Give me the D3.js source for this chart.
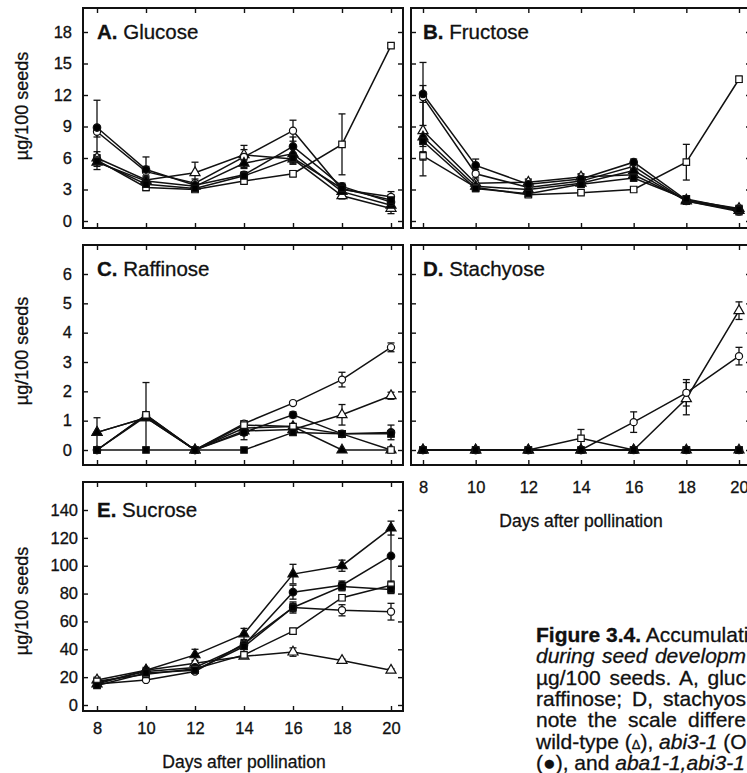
<!DOCTYPE html>
<html>
<head>
<meta charset="utf-8">
<script src="https://cdn.jsdelivr.net/npm/d3@7"></script>
<style>
  body { margin: 0; background: #fff; }
  svg { display: block; font-family: "Liberation Sans", Arial, Helvetica, sans-serif; }
  svg text { stroke: #111; stroke-width: 0.3px; }
</style>
</head>
<body>
<svg id="figure" width="747" height="773"></svg>
<script>
const days = [8, 10, 12, 14, 16, 18, 20];

// every panel lists its rows in this marker order
const markers = ["openTri", "openCircle", "filledTri", "filledCircle", "openSquare", "filledSquare"];

const glucose = [
  [6.0, 3.9, 4.6, 6.3, 5.9, 2.4, 1.2],
  [8.5, 4.7, 3.6, 6.1, 8.6, 3.0, 2.3],
  [5.6, 3.8, 3.3, 5.5, 6.4, 2.8, 1.5],
  [8.9, 4.9, 3.4, 4.4, 7.1, 3.3, 1.8],
  [5.8, 3.2, 3.0, 3.8, 4.5, 7.3, 16.7],
  [5.7, 3.5, 3.1, 4.3, 6.0, 3.1, 2.0]
];
const glucoseErr = [
  [0.6, 0.4, 1.0, 0.5, 0.5, 0.3, 0.5],
  [0.5, 0.5, 0.4, 1.1, 1.0, 0.3, 0.5],
  [0.7, 0.3, 0.3, 0.4, 0.8, 0.3, 0.4],
  [2.6, 1.2, 0.3, 0.3, 0.9, 0.3, 0.4],
  [0.4, 0.3, 0.2, 0.2, 0.3, 2.9, 0.2],
  [0.5, 0.3, 0.3, 0.3, 0.5, 0.3, 0.5]
];

const fructose = [
  [8.6, 3.6, 3.7, 4.2, 4.4, 2.0, 1.2],
  [11.8, 4.5, 3.2, 3.8, 5.2, 1.9, 0.9],
  [8.0, 3.3, 3.0, 3.6, 4.8, 1.9, 1.0],
  [12.1, 5.3, 3.5, 4.0, 5.6, 2.0, 1.0],
  [6.2, 3.2, 2.5, 2.7, 3.0, 5.6, 13.5],
  [7.6, 3.1, 2.6, 3.5, 4.1, 2.1, 1.1]
];
const fructoseErr = [
  [4.3, 0.3, 0.3, 0.3, 0.3, 0.3, 0.3],
  [0.5, 0.4, 0.3, 0.3, 0.3, 0.3, 0.3],
  [0.6, 0.3, 0.3, 0.3, 0.3, 0.3, 0.3],
  [3.0, 0.6, 0.4, 0.4, 0.3, 0.4, 0.4],
  [0.4, 0.2, 0.2, 0.2, 0.2, 1.7, 0.3],
  [0.5, 0.3, 0.3, 0.3, 0.3, 0.3, 0.3]
];

const raffinose = [
  [0.6, 1.1, 0, 0.65, 0.7, 1.2, 1.85],
  [0, 1.2, 0, 0.9, 1.6, 2.4, 3.5],
  [0.6, 1.1, 0, 0.75, 0.8, 0, 0],
  [0, 1.15, 0, 0.6, 1.2, 0.55, 0.6],
  [0, 1.2, 0, 0.85, 0.8, 0.55, 0],
  [0, 0, 0, 0, 0.6, 0.55, 0.55]
];
const raffinoseErr = [
  [0.5, 0, 0, 0.3, 0, 0.35, 0.12],
  [0, 1.1, 0, 0.1, 0.05, 0.25, 0.15],
  [0, 0, 0, 0.25, 0, 0, 0],
  [0, 0, 0, 0.1, 0.1, 0.1, 0.25],
  [0, 0, 0, 0.1, 0.1, 0.1, 0],
  [0, 0, 0, 0, 0.1, 0.1, 0.1]
];

const stachyose = [
  [0, 0, 0, 0, 0, 1.75, 4.75],
  [0, 0, 0, 0, 0.95, 1.95, 3.2],
  [0, 0, 0, 0, 0, 0, 0],
  [0, 0, 0, 0, 0, 0, 0],
  [0, 0, 0, 0.4, 0, 0, 0],
  [0, 0, 0, 0, 0, 0, 0]
];
const stachyoseErr = [
  [0, 0, 0, 0, 0, 0.55, 0.3],
  [0, 0, 0, 0, 0.35, 0.45, 0.3],
  [0, 0, 0, 0, 0, 0, 0],
  [0, 0, 0, 0, 0, 0, 0],
  [0, 0, 0, 0.3, 0, 0, 0],
  [0, 0, 0, 0, 0, 0, 0]
];

const sucrose = [
  [18, 25, 30, 35, 38, 32, 25],
  [15, 18, 24, 44, 70, 68, 67],
  [15, 25, 36, 51, 94, 100, 127],
  [16, 24, 27, 43, 81, 86, 107],
  [17, 22, 26, 36, 53, 77, 86],
  [14, 23, 25, 42, 70, 85, 83]
];
const sucroseErr = [
  [2, 1, 1, 1, 3, 1, 1],
  [1, 1, 1, 2, 4, 4, 6],
  [2, 2, 4, 4, 7, 4, 5],
  [2, 2, 2, 3, 5, 3, 20],
  [2, 1, 1, 1, 2, 2, 3],
  [2, 2, 2, 2, 3, 3, 3]
];

const glucoseTicks = [0, 3, 6, 9, 12, 15, 18];
const raffinoseTicks = [0, 1, 2, 3, 4, 5, 6];
const sucroseTicks = [0, 20, 40, 60, 80, 100, 120, 140];

// legend text block; it runs up to the right edge of the page
const captionLines = [
  [["Figure 3.4.", "bold"], [" Accumulati", ""]],
  [["during seed developm", "italic"]],
  [["µg/100 seeds. A, gluc", ""]],
  [["raffinose; D, stachyos", ""]],
  [["note the scale differe", ""]],
  [["wild-type (", ""], ["Δ", "small"], ["), ", ""], ["abi3-1", "italic"], [" (O", ""]],
  [["(", ""], ["●", ""], ["), and ", ""], ["aba1-1,abi3-1", "italic"]]
];
// lines stretched to the right edge (the last one stays ragged)
const justified = [true, true, true, true, true, false, false];

const svg = d3.select("svg#figure");

const symbols = {
  openTri:      { type: d3.symbolTriangle, size: 44, fill: "#fff" },
  openCircle:   { type: d3.symbolCircle,   size: 40, fill: "#fff" },
  filledTri:    { type: d3.symbolTriangle, size: 44, fill: "#000" },
  filledCircle: { type: d3.symbolCircle,   size: 44, fill: "#000" },
  openSquare:   { type: d3.symbolSquare,   size: 42, fill: "#fff" },
  filledSquare: { type: d3.symbolSquare,   size: 42, fill: "#000" }
};

// panel boxes: [left, top, right, bottom]
const panels = [
  { key: "A.", name: " Glucose",   rows: glucose,   errs: glucoseErr,   box: [83, 8, 403, 228],
    xRange: [97, 391],  yDomain: [0, 18], yRange: [221, 32],  ticks: glucoseTicks,   yLab: 11, xLab: null, titleY: 39, labelY: 106 },
  { key: "B.", name: " Fructose",  rows: fructose,  errs: fructoseErr,  box: [411, 8, 751, 228],
    xRange: [423, 739], yDomain: [0, 18], yRange: [221, 32],  ticks: glucoseTicks,   yLab: null, xLab: null, titleY: 39 },
  { key: "C.", name: " Raffinose", rows: raffinose, errs: raffinoseErr, box: [83, 245, 403, 465],
    xRange: [97, 391],  yDomain: [0, 6],  yRange: [450, 274], ticks: raffinoseTicks, yLab: 11, xLab: null, titleY: 276, labelY: 351 },
  { key: "D.", name: " Stachyose", rows: stachyose, errs: stachyoseErr, box: [411, 245, 751, 465],
    xRange: [423, 739], yDomain: [0, 6],  yRange: [450, 274], ticks: raffinoseTicks, yLab: null, xLab: 16, titleY: 276 },
  { key: "E.", name: " Sucrose",   rows: sucrose,   errs: sucroseErr,   box: [83, 482, 403, 711],
    xRange: [97, 391],  yDomain: [0, 140], yRange: [705, 510], ticks: sucroseTicks, yLab: 5, xLab: 11, titleY: 517, labelY: 601 }
];

function styleAxis(g) {
  g.select(".domain").remove();
  g.selectAll(".tick line").attr("stroke", "#111").attr("stroke-width", 1.4);
  g.selectAll(".tick text").attr("fill", "#111").attr("font-size", 16.5)
    .attr("font-family", '"Liberation Sans", Arial, sans-serif');
}

function drawPanel(p) {
  const [left, top, right, bottom] = p.box;
  const x = d3.scaleLinear().domain([8, 20]).range(p.xRange);
  const y = d3.scaleLinear().domain(p.yDomain).range(p.yRange);
  const g = svg.append("g");

  g.append("g").attr("transform", `translate(0,${bottom})`)
    .call(d3.axisBottom(x).tickValues(days).tickSize(-5).tickSizeOuter(0)
      .tickPadding(p.xLab || 0).tickFormat(p.xLab ? d3.format("d") : ""))
    .call(styleAxis);
  g.append("g").attr("transform", `translate(0,${top})`)
    .call(d3.axisTop(x).tickValues(days).tickSize(-5).tickSizeOuter(0).tickFormat(""))
    .call(styleAxis);
  g.append("g").attr("transform", `translate(${left},0)`)
    .call(d3.axisLeft(y).tickValues(p.ticks).tickSize(-5).tickSizeOuter(0)
      .tickPadding(p.yLab || 0).tickFormat(p.yLab ? d3.format("d") : ""))
    .call(styleAxis);
  g.append("g").attr("transform", `translate(${right},0)`)
    .call(d3.axisRight(y).tickValues(p.ticks).tickSize(-5).tickSizeOuter(0).tickFormat(""))
    .call(styleAxis);

  g.append("rect")
    .attr("x", left).attr("y", top)
    .attr("width", right - left).attr("height", bottom - top)
    .attr("fill", "none").attr("stroke", "#111").attr("stroke-width", 2);

  const line = d3.line().x((d, i) => x(days[i])).y(d => y(d));
  g.selectAll(".series")
    .data(p.rows)
    .join("path")
    .attr("class", "series")
    .attr("d", line)
    .attr("fill", "none").attr("stroke", "#111").attr("stroke-width", 1.5);

  // error bars with caps
  p.rows.forEach((row, s) => {
    row.forEach((v, i) => {
      const e = p.errs[s][i];
      if (!e) return;
      const cx = x(days[i]);
      const eb = g.append("g").attr("stroke", "#111").attr("stroke-width", 1.3);
      eb.append("line").attr("x1", cx).attr("x2", cx).attr("y1", y(v - e)).attr("y2", y(v + e));
      [v - e, v + e].forEach(t => {
        eb.append("line").attr("x1", cx - 3.5).attr("x2", cx + 3.5).attr("y1", y(t)).attr("y2", y(t));
      });
    });
  });

  p.rows.forEach((row, s) => {
    const m = symbols[markers[s]];
    g.selectAll(null)
      .data(row)
      .join("path")
      .attr("transform", (d, i) => `translate(${x(days[i])},${y(d)})`)
      .attr("d", d3.symbol().type(m.type).size(m.size))
      .attr("fill", m.fill).attr("stroke", "#111").attr("stroke-width", 1.2);
  });

  const title = g.append("text")
    .attr("x", x(8)).attr("y", p.titleY)
    .attr("font-size", 20.5).attr("fill", "#111");
  title.append("tspan").attr("font-weight", "bold").text(p.key);
  title.append("tspan").text(p.name);

  if (p.yLab) {
    g.append("text")
      .attr("transform", `translate(22,${p.labelY}) rotate(-90)`)
      .attr("text-anchor", "middle").attr("dominant-baseline", "central")
      .attr("font-size", 18).attr("fill", "#111")
      .text("µg/100 seeds");
  }
  if (p.xLab) {
    g.append("text")
      .attr("x", (x(8) + x(20)) / 2).attr("y", bottom + p.xLab + 46)
      .attr("text-anchor", "middle").attr("font-size", 17.5).attr("fill", "#111")
      .text("Days after pollination");
  }
}

panels.forEach(drawPanel);

const captionLeft = 536, captionRight = 746;
const caption = svg.append("g").attr("font-size", 21).attr("fill", "#111");
captionLines.forEach((parts, i) => {
  const t = caption.append("text")
    .attr("x", captionLeft).attr("y", 642 + i * 21.3);
  parts.forEach(([s, kind]) => {
    const span = t.append("tspan").text(s);
    if (kind === "bold") span.attr("font-weight", "bold");
    if (kind === "italic") span.attr("font-style", "italic");
    if (kind === "small") span.attr("font-size", 13);
  });
  if (justified[i]) {
    const gaps = parts.map(d => d[0]).join("").split(" ").length - 1;
    const spare = captionRight - captionLeft - t.node().getComputedTextLength();
    if (gaps > 0 && spare > 0) t.style("word-spacing", (spare / gaps) + "px");
  }
});
</script>
</body>
</html>
